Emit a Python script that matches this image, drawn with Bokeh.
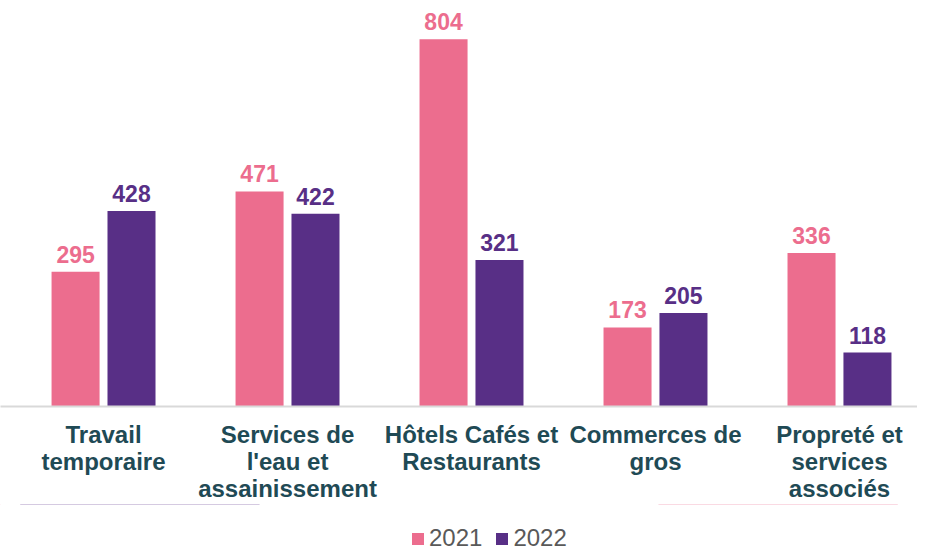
from bokeh.plotting import figure
from bokeh.layouts import column
from bokeh.models import ColumnDataSource, Range1d, FixedTicker, Legend, LegendItem, LabelSet
from bokeh.core.properties import value
from bokeh.embed import file_html
from bokeh.resources import INLINE

categories = ["Travail\ntemporaire", "Services de\nl'eau et\nassainissement",
              "Hôtels Cafés et\nRestaurants", "Commerces de\ngros",
              "Propreté et\nservices\nassociés"]
values_2021 = [295, 471, 804, 173, 336]
values_2022 = [428, 422, 321, 205, 118]
series = ["2021", "2022"]

PINK = "#EC6D8E"
PURPLE = "#582F86"
TEXT_DARK = "#1F4A55"

idx = list(range(len(categories)))
off = 0.152
bw = 0.261

src21 = ColumnDataSource(dict(x=[i - off for i in idx], y=values_2021, t=[str(v) for v in values_2021]))
src22 = ColumnDataSource(dict(x=[i + off for i in idx], y=values_2022, t=[str(v) for v in values_2022]))

p = figure(frame_width=917, frame_height=406, output_backend="svg", toolbar_location=None,
           x_range=Range1d(-0.560, 4.424), y_range=Range1d(0, 889),
           min_border_left=0, min_border_right=0, min_border_top=0, min_border_bottom=0)
p.outline_line_color = None
p.grid.grid_line_color = None
p.yaxis.visible = False

p.vbar(x="x", top="y", width=bw, source=src21, fill_color=PINK, line_color=None)
p.vbar(x="x", top="y", width=bw, source=src22, fill_color=PURPLE, line_color=None)

for src, col in ((src21, PINK), (src22, PURPLE)):
    lbl = LabelSet(x="x", y="y", text="t", source=src, text_align="center", text_baseline="bottom",
                   y_offset=9, text_color=col, text_font=value("Liberation Sans"),
                   text_font_style="bold", text_font_size="23px")
    p.add_layout(lbl)

ax = p.xaxis[0]
ax.ticker = FixedTicker(ticks=idx)
ax.major_label_overrides = {i: c for i, c in zip(idx, categories)}
ax.major_tick_line_color = None
ax.minor_tick_line_color = None
ax.axis_line_color = "#D9D9D9"
ax.axis_line_width = 2
ax.major_label_text_font = "Liberation Sans"
ax.major_label_text_font_style = "bold"
ax.major_label_text_font_size = "24px"
ax.major_label_text_line_height = 1.0
ax.major_label_text_color = TEXT_DARK
ax.major_label_standoff = 8

# legend strip: same series renderers, kept out of its visible range
p2 = figure(width=917, height=42, output_backend="svg", toolbar_location=None,
            x_range=Range1d(0, 1), y_range=Range1d(-2, -1),
            min_border_left=0, min_border_right=0, min_border_top=0, min_border_bottom=0)
p2.outline_line_color = None
p2.grid.grid_line_color = None
p2.axis.visible = False
g1 = p2.vbar(x="x", top="y", width=bw, source=src21, fill_color=PINK, line_color=None)
g2 = p2.vbar(x="x", top="y", width=bw, source=src22, fill_color=PURPLE, line_color=None)

legend = Legend(items=[LegendItem(label=series[0], renderers=[g1], index=0),
                       LegendItem(label=series[1], renderers=[g2], index=0)],
                orientation="horizontal", location=(410, -6),
                label_text_font="Liberation Sans", label_text_font_size="24px",
                label_text_color="#595959", glyph_width=15, glyph_height=15,
                spacing=12, label_standoff=4, padding=0, margin=0,
                border_line_color=None, background_fill_alpha=0)
p2.add_layout(legend, "center")

open("out.html", "w").write(file_html(column(p, p2, spacing=0), INLINE))
